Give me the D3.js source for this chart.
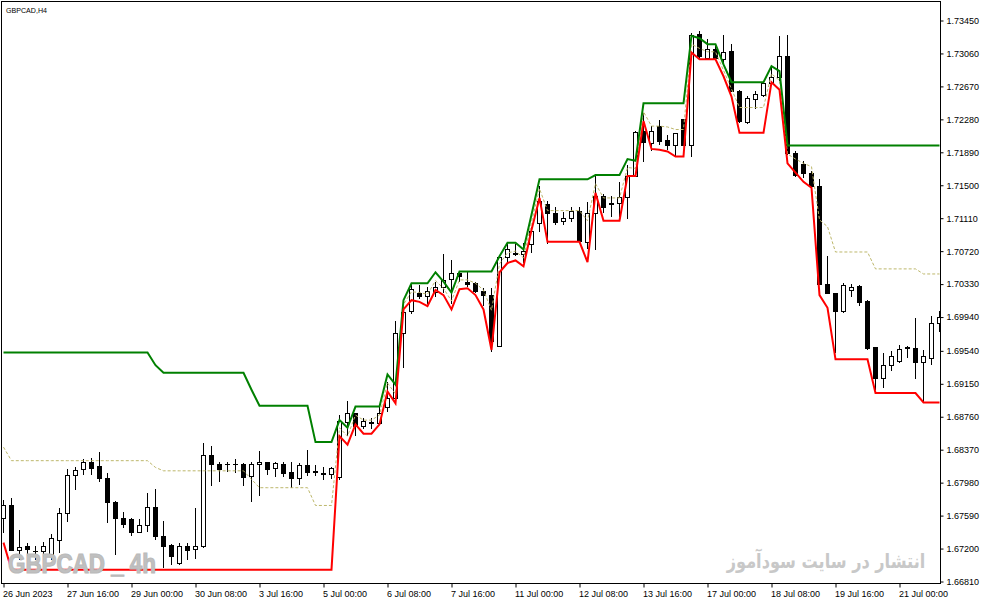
<!DOCTYPE html>
<html>
<head>
<meta charset="utf-8">
<script src="https://cdn.jsdelivr.net/npm/d3@7"></script>
<style>
  html, body { margin: 0; padding: 0; background: #fff; }
  svg { display: block; }
  .axis text { font-family: "Liberation Sans", Arial, sans-serif; font-size: 9px; fill: #000; }
  .axis line { stroke: #000; }
</style>
</head>
<body>
<div id="chart"></div>
<script>
// GBPCAD H4, bar by bar
var opens = [1.6756,1.6771,1.6718,1.6723,1.6717,1.6717,1.6713,1.6730,1.6762,1.6807,
  1.6813,1.6822,1.6817,1.6803,1.6774,1.6755,1.6754,1.6739,1.6747,1.6769,
  1.6734,1.6724,1.6702,1.6722,1.6719,1.6723,1.6830,1.6819,1.6820,1.6820,
  1.6819,1.6805,1.6819,1.6822,1.6815,1.6820,1.6810,1.6803,1.6818,1.6811,
  1.6809,1.6808,1.6804,1.6869,1.6880,1.6865,1.6868,1.6868,1.6887,1.6898,
  1.6975,1.7000,1.7022,1.7018,1.7023,1.7029,1.7038,1.7045,1.7035,1.7034,
  1.7024,1.7019,1.6959,1.7065,1.7069,1.7068,1.7080,1.7105,1.7127,1.7117,
  1.7107,1.7111,1.7119,1.7082,1.7117,1.7137,1.7128,1.7128,1.7135,1.7160,
  1.7214,1.7200,1.7220,1.7203,1.7197,1.7228,1.7197,1.7328,1.7300,1.7311,
  1.7299,1.7308,1.7261,1.7224,1.7252,1.7256,1.7270,1.7277,1.7302,1.7187,
  1.7174,1.7164,1.7149,1.7033,1.7022,1.7001,1.7025,1.7030,1.7012,1.6958,
  1.6921,1.6937,1.6941,1.6958,1.6957,1.6940,1.6945,1.6986];
var highs = [1.6778,1.6780,1.6742,1.6726,1.6723,1.6728,1.6737,1.6768,1.6814,1.6817,
  1.6826,1.6827,1.6834,1.6809,1.6776,1.6763,1.6756,1.6755,1.6786,1.6790,
  1.6753,1.6725,1.6726,1.6727,1.6768,1.6845,1.6841,1.6822,1.6823,1.6826,
  1.6821,1.6822,1.6835,1.6823,1.6822,1.6823,1.6823,1.6821,1.6837,1.6819,
  1.6817,1.6817,1.6878,1.6895,1.6881,1.6875,1.6875,1.6888,1.6917,1.6989,
  1.7014,1.7034,1.7032,1.7030,1.7036,1.7069,1.7062,1.7047,1.7047,1.7036,
  1.7028,1.7028,1.7066,1.7081,1.7081,1.7082,1.7101,1.7149,1.7131,1.7124,
  1.7118,1.7124,1.7124,1.7130,1.7162,1.7140,1.7137,1.7154,1.7174,1.7214,
  1.7235,1.7220,1.7227,1.7210,1.7212,1.7229,1.7330,1.7333,1.7323,1.7316,
  1.7328,1.7317,1.7263,1.7256,1.7261,1.7271,1.7291,1.7327,1.7328,1.7190,
  1.7179,1.7167,1.7157,1.7066,1.7023,1.7034,1.7033,1.7032,1.7014,1.6959,
  1.6952,1.6954,1.6961,1.6960,1.6993,1.6955,1.6995,1.7001];
var lows = [1.6738,1.6717,1.6707,1.6711,1.6707,1.6710,1.6707,1.6715,1.6752,1.6789,
  1.6807,1.6807,1.6799,1.6750,1.6712,1.6744,1.6735,1.6738,1.6740,1.6730,
  1.6697,1.6701,1.6701,1.6707,1.6708,1.6721,1.6794,1.6799,1.6811,1.6810,
  1.6794,1.6775,1.6782,1.6807,1.6805,1.6805,1.6792,1.6795,1.6806,1.6806,
  1.6801,1.6802,1.6801,1.6853,1.6853,1.6861,1.6862,1.6866,1.6882,1.6897,
  1.6934,1.6998,1.7015,1.7009,1.7018,1.7022,1.7010,1.7036,1.7030,1.7023,
  1.7007,1.6953,1.6959,1.7057,1.7066,1.7058,1.7070,1.7095,1.7081,1.7103,
  1.7103,1.7106,1.7082,1.7074,1.7073,1.7117,1.7113,1.7113,1.7110,1.7160,
  1.7177,1.7190,1.7198,1.7192,1.7184,1.7196,1.7183,1.7300,1.7299,1.7299,
  1.7293,1.7260,1.7224,1.7223,1.7240,1.7254,1.7269,1.7273,1.7186,1.7160,
  1.7159,1.7149,1.7032,1.7021,1.6952,1.6999,1.7018,1.7007,1.6955,1.6908,
  1.6910,1.6930,1.6940,1.6945,1.6921,1.6893,1.6937,1.6976];
var closes = [1.6771,1.6718,1.6721,1.6719,1.6716,1.6722,1.6732,1.6762,1.6807,1.6812,
  1.6822,1.6815,1.6803,1.6774,1.6755,1.6749,1.6739,1.6747,1.6769,1.6734,
  1.6723,1.6711,1.6722,1.6718,1.6722,1.6830,1.6820,1.6813,1.6819,1.6819,
  1.6804,1.6819,1.6822,1.6813,1.6821,1.6809,1.6803,1.6818,1.6810,1.6810,
  1.6808,1.6815,1.6870,1.6880,1.6864,1.6870,1.6869,1.6880,1.6898,1.6975,
  1.6999,1.7027,1.7018,1.7024,1.7029,1.7037,1.7045,1.7042,1.7033,1.7024,
  1.7019,1.6965,1.7065,1.7074,1.7068,1.7072,1.7095,1.7131,1.7117,1.7106,
  1.7111,1.7119,1.7083,1.7117,1.7137,1.7124,1.7127,1.7135,1.7160,1.7212,
  1.7201,1.7214,1.7202,1.7197,1.7211,1.7197,1.7327,1.7302,1.7311,1.7300,
  1.7307,1.7261,1.7225,1.7253,1.7257,1.7270,1.7278,1.7302,1.7188,1.7161,
  1.7164,1.7149,1.7033,1.7022,1.7001,1.7031,1.7029,1.7011,1.6957,1.6921,
  1.6937,1.6947,1.6956,1.6957,1.6940,1.6947,1.6986,1.6993];

// channel lines (green top, red bottom, khaki dotted middle)
var upper = [1.6952,1.6952,1.6952,1.6952,1.6952,1.6952,1.6952,1.6952,1.6952,1.6952,
  1.6952,1.6952,1.6952,1.6952,1.6952,1.6952,1.6952,1.6952,1.6952,1.6937,
  1.6928,1.6928,1.6928,1.6928,1.6928,1.6928,1.6928,1.6928,1.6928,1.6928,
  1.6928,1.6908,1.6889,1.6889,1.6889,1.6889,1.6889,1.6889,1.6889,1.6846,
  1.6846,1.6846,1.6872,1.6863,1.6888,1.6888,1.6888,1.6888,1.6926,1.6914,
  1.7014,1.7034,1.7034,1.7034,1.7047,1.7036,1.7023,1.7048,1.7048,1.7048,
  1.7048,1.7048,1.7066,1.7082,1.7082,1.7074,1.7115,1.7157,1.7157,1.7157,
  1.7157,1.7157,1.7157,1.7157,1.7162,1.7162,1.7162,1.7162,1.7181,1.7179,
  1.7247,1.7247,1.7247,1.7247,1.7247,1.7247,1.7327,1.7324,1.7317,1.7317,
  1.7293,1.7272,1.7272,1.7272,1.7272,1.7272,1.7291,1.7285,1.7197,1.7197,
  1.7197,1.7197,1.7197,1.7197,1.7197,1.7197,1.7197,1.7197,1.7197,1.7197,
  1.7197,1.7197,1.7197,1.7197,1.7197,1.7197,1.7197,1.7197];
var lower = [1.6727,1.6695,1.6695,1.6695,1.6695,1.6695,1.6695,1.6695,1.6695,1.6695,
  1.6695,1.6695,1.6695,1.6695,1.6695,1.6695,1.6695,1.6695,1.6695,1.6695,
  1.6695,1.6695,1.6695,1.6695,1.6695,1.6695,1.6695,1.6695,1.6695,1.6695,
  1.6695,1.6695,1.6695,1.6695,1.6695,1.6695,1.6695,1.6695,1.6695,1.6695,
  1.6695,1.6695,1.6853,1.6843,1.6867,1.6856,1.6856,1.6867,1.6906,1.6892,
  1.7003,1.7014,1.7012,1.7007,1.7026,1.7020,1.7003,1.7027,1.7028,1.7020,
  1.7003,1.6955,1.7047,1.7058,1.7061,1.7054,1.7097,1.7135,1.7083,1.7083,
  1.7083,1.7083,1.7083,1.7059,1.7141,1.7108,1.7108,1.7108,1.7161,1.7161,
  1.7226,1.7193,1.7192,1.7190,1.7184,1.7184,1.7307,1.7299,1.7299,1.7299,
  1.7279,1.7255,1.7212,1.7212,1.7212,1.7212,1.7272,1.7263,1.7176,1.7165,
  1.7154,1.7147,1.7020,1.7005,1.6944,1.6944,1.6944,1.6944,1.6944,1.6904,
  1.6904,1.6904,1.6904,1.6904,1.6904,1.6893,1.6893,1.6893];
var middle = [1.6840,1.6824,1.6824,1.6824,1.6824,1.6824,1.6824,1.6824,1.6824,1.6824,
  1.6824,1.6824,1.6824,1.6824,1.6824,1.6824,1.6824,1.6824,1.6824,1.6816,
  1.6812,1.6812,1.6812,1.6812,1.6812,1.6812,1.6812,1.6812,1.6812,1.6812,
  1.6812,1.6802,1.6792,1.6792,1.6792,1.6792,1.6792,1.6792,1.6792,1.6771,
  1.6771,1.6771,1.6863,1.6853,1.6878,1.6872,1.6872,1.6878,1.6916,1.6903,
  1.7009,1.7024,1.7023,1.7021,1.7037,1.7028,1.7013,1.7038,1.7038,1.7034,
  1.7026,1.7002,1.7057,1.7070,1.7072,1.7064,1.7106,1.7146,1.7120,1.7120,
  1.7120,1.7120,1.7120,1.7108,1.7152,1.7135,1.7135,1.7135,1.7171,1.7170,
  1.7237,1.7220,1.7220,1.7219,1.7216,1.7216,1.7317,1.7312,1.7308,1.7308,
  1.7286,1.7264,1.7242,1.7242,1.7242,1.7242,1.7282,1.7274,1.7187,1.7181,
  1.7176,1.7172,1.7109,1.7101,1.7071,1.7071,1.7071,1.7071,1.7071,1.7051,
  1.7051,1.7051,1.7051,1.7051,1.7051,1.7045,1.7045,1.7045];

var timeTickBars = [0,8,16,24,32,40,48,56,64,72,80,88,96,104,112];
var timeTickLabels = ["26 Jun 2023","27 Jun 16:00","29 Jun 00:00","30 Jun 08:00","3 Jul 16:00",
  "5 Jul 00:00","6 Jul 08:00","7 Jul 16:00","11 Jul 00:00","12 Jul 08:00","13 Jul 16:00",
  "17 Jul 00:00","18 Jul 08:00","19 Jul 16:00","21 Jul 00:00"];
var priceTicks = [1.73450,1.73060,1.72670,1.72280,1.71890,1.71500,1.71110,1.70720,1.70330,
  1.69940,1.69540,1.69150,1.68760,1.68370,1.67980,1.67590,1.67200,1.66810];

var width = 987;
var height = 605;
var frameL = 1.5, frameT = 1.5, frameR = 940.5, frameB = 583.5;

var svg = d3.select("#chart")
  .append("svg")
  .attr("width", width)
  .attr("height", height);

var x = d3.scaleLinear()
  .domain([0, opens.length - 1])
  .range([3.5, 939.5]);

var y = d3.scaleLinear()
  .domain([1.66810, 1.73450])
  .range([581.5, 20.5]);

svg.append("clipPath")
  .attr("id", "plot")
  .append("rect")
  .attr("x", frameL + 0.5)
  .attr("y", frameT + 0.5)
  .attr("width", frameR - frameL - 1)
  .attr("height", frameB - frameT - 1);

var plot = svg.append("g").attr("clip-path", "url(#plot)");

var bars = opens.map(function(o, i) {
  return {i: i, o: o, h: highs[i], l: lows[i], c: closes[i]};
});

var candle = plot.append("g")
  .attr("shape-rendering", "crispEdges")
  .selectAll("g")
  .data(bars)
  .enter()
  .append("g");

candle.append("line")
  .attr("x1", d => x(d.i))
  .attr("x2", d => x(d.i))
  .attr("y1", d => y(d.h))
  .attr("y2", d => y(d.l))
  .attr("stroke", "#000");

candle.append("rect")
  .attr("x", d => x(d.i) - 2)
  .attr("width", 4)
  .attr("y", d => y(Math.max(d.o, d.c)))
  .attr("height", d => Math.max(Math.abs(y(d.o) - y(d.c)), 0.5))
  .attr("fill", d => d.c >= d.o ? "#fff" : "#000")
  .attr("stroke", "#000");

var line = d3.line()
  .x((d, i) => x(i))
  .y(d => y(d));

plot.append("path")
  .attr("d", line(middle))
  .attr("fill", "none")
  .attr("stroke", "#bdb76b")
  .attr("stroke-width", 1)
  .attr("stroke-dasharray", "3,2");

plot.append("path")
  .attr("d", line(upper))
  .attr("fill", "none")
  .attr("stroke", "#008000")
  .attr("stroke-width", 2);

plot.append("path")
  .attr("d", line(lower))
  .attr("fill", "none")
  .attr("stroke", "#ff0000")
  .attr("stroke-width", 2);

// watermarks are painted over the bars
svg.append("text")
  .attr("x", 8)
  .attr("y", 573)
  .attr("textLength", 148)
  .attr("lengthAdjust", "spacingAndGlyphs")
  .style("font-family", "'Liberation Sans', Arial, sans-serif")
  .style("font-weight", "bold")
  .style("font-size", "28px")
  .style("fill", "#c0c0c0")
  .style("stroke", "#bababa")
  .style("stroke-width", 1.2)
  .text("GBPCAD _ 4h");

svg.append("text")
  .attr("transform", "translate(826,568) scale(0.85,1.05)")
  .attr("text-anchor", "middle")
  .style("font-family", "'DejaVu Sans', sans-serif")
  .style("font-weight", "bold")
  .style("font-size", "19px")
  .style("fill", "#c8c8c8")
  .text("انتشار در سایت سودآموز");

// frame
svg.append("rect")
  .attr("x", frameL)
  .attr("y", frameT)
  .attr("width", frameR - frameL)
  .attr("height", frameB - frameT)
  .attr("fill", "none")
  .attr("stroke", "#000")
  .attr("shape-rendering", "crispEdges");

var yAxis = svg.append("g")
  .attr("class", "axis")
  .attr("transform", "translate(" + frameR + ",0)")
  .call(d3.axisRight(y)
    .tickValues(priceTicks)
    .tickSize(3)
    .tickPadding(3)
    .tickFormat(d3.format(".5f")));
yAxis.select(".domain").remove();

var xAxis = svg.append("g")
  .attr("class", "axis")
  .attr("transform", "translate(0," + frameB + ")")
  .call(d3.axisBottom(x)
    .tickValues(timeTickBars)
    .tickSize(4)
    .tickPadding(3)
    .tickFormat((d, i) => timeTickLabels[i]));
xAxis.select(".domain").remove();
xAxis.selectAll("text").attr("text-anchor", "start").attr("x", -1);

svg.append("text")
  .attr("x", 6)
  .attr("y", 13)
  .attr("textLength", 41)
  .attr("lengthAdjust", "spacingAndGlyphs")
  .style("font-family", "'Liberation Sans', Arial, sans-serif")
  .style("font-size", "8px")
  .style("fill", "#000")
  .text("GBPCAD,H4");
</script>
</body>
</html>
